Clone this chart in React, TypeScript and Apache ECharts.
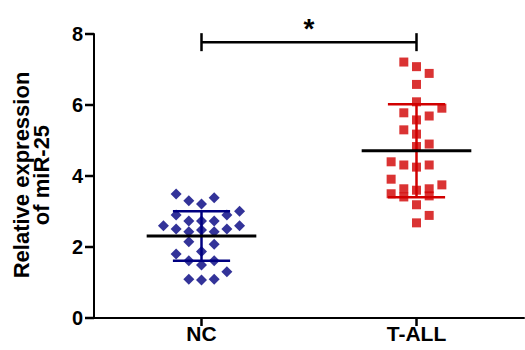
import React, { useEffect, useRef } from "react";
import * as echarts from "echarts";

const categories = ["NC", "T-ALL"];
const yTicks = [0, 2, 4, 6, 8];

// NC group: jitter column index and value
const ncCol = [-2, -1, 1, 0, -2, 2, 3, -3, -1, 0, 1, 3, -2, -1, 0, 1, 2, -1, 1, 0, -2, -1, 0, 1, 2, -1, 0, 1];
const ncVal = [3.49, 3.3, 3.39, 3.21, 2.9, 2.9, 3.01, 2.6, 2.73, 2.73, 2.73, 2.6, 2.51, 2.43, 2.48, 2.43, 2.51, 2.15, 2.08, 1.87, 1.8, 1.61, 1.49, 1.61, 1.3, 1.09, 1.07, 1.09];

// T-ALL group
const tallCol = [-1, 0, 1, 0, 0, 2, -1, 0, 1, -1, 0, 1, 0, -2, -1, 0, 1, -2, 2, -1, 1, 0, -2, -1, 1, 0, 1, 0];
const tallVal = [7.21, 7.08, 6.89, 6.58, 6.09, 5.91, 5.78, 5.58, 5.69, 5.3, 5.18, 4.9, 4.83, 4.4, 4.31, 4.25, 4.31, 3.91, 3.75, 3.64, 3.64, 3.6, 3.5, 3.41, 3.44, 3.19, 2.89, 2.68];

// mean and SD per group
const means = [2.31, 4.71];
const sds = [0.7, 1.31];

// significance bracket
const bracketLevel = 7.77;
const bracketLabel = "*";

const JIT = 0.059;
const MEAN_HALF = 0.255;
const CAP_HALF = 0.133;
const X_MIN = -0.5;
const X_MAX = 1.5;
const colors = ["#000080", "#d10000"];
const FONT = "'Liberation Sans', Arial, sans-serif";

export default function App() {
  const ref = useRef<HTMLDivElement>(null);
  useEffect(() => {
    document.body.style.margin = "0";
    if (!ref.current) return;
    const chart = echarts.init(ref.current, undefined, { renderer: "svg" });
    const option: any = {
      animation: false,
      backgroundColor: "#ffffff",
      grid: { left: 94, right: 1, top: 34, bottom: 32, outerBoundsMode: "none", containLabel: false },
      xAxis: [
        {
          type: "category",
          data: categories,
          boundaryGap: true,
          axisLine: { show: true, onZero: false, lineStyle: { color: "#000", width: 2 } },
          axisTick: { show: false },
          axisLabel: { color: "#000", fontSize: 21, fontWeight: "bold", fontFamily: FONT, margin: 5 },
          splitLine: { show: false },
        },
        { type: "value", min: X_MIN, max: X_MAX, show: false },
      ],
      yAxis: {
        type: "value",
        min: yTicks[0],
        max: yTicks[yTicks.length - 1],
        interval: 2,
        axisLine: { show: true, onZero: false, lineStyle: { color: "#000", width: 2 } },
        axisTick: { show: false },
        axisLabel: { color: "#000", fontSize: 20, fontWeight: "bold", fontFamily: FONT, margin: 11 },
        splitLine: { show: false },
      },
      graphic: [
        {
          type: "text",
          x: 31,
          y: 175,
          rotation: Math.PI / 2,
          style: {
            text: "Relative expression\nof miR-25",
            fill: "#000",
            fontSize: 22,
            fontWeight: "bold",
            fontFamily: FONT,
            align: "center",
            verticalAlign: "middle",
            lineHeight: 20,
          },
        },
      ],
      series: [
        {
          type: "scatter",
          xAxisIndex: 1,
          symbol: "diamond",
          symbolSize: 11,
          itemStyle: { color: colors[0] },
          data: ncVal.map((v, i) => [0 + ncCol[i] * JIT, v]),
          z: 2,
        },
        {
          type: "scatter",
          xAxisIndex: 1,
          symbol: "rect",
          symbolSize: 9,
          itemStyle: { color: colors[1] },
          data: tallVal.map((v, i) => [1 + tallCol[i] * JIT, v]),
          z: 2,
        },
        {
          type: "custom",
          xAxisIndex: 1,
          z: 5,
          clip: false,
          encode: { x: 0, y: 1 },
          data: means.map((m, i) => [i, m, sds[i]]),
          renderItem: (params: any, api: any) => {
            const x = api.value(0);
            const m = api.value(1);
            const s = api.value(2);
            const c = api.coord([x, m]);
            const t = api.coord([x, m + s]);
            const b = api.coord([x, m - s]);
            const mh = api.size([MEAN_HALF, 0])[0];
            const ch = api.size([CAP_HALF, 0])[0];
            const col = colors[params.dataIndex];
            const es = { stroke: col, lineWidth: 2.5 };
            return {
              type: "group",
              children: [
                { type: "line", shape: { x1: c[0], y1: t[1], x2: c[0], y2: b[1] }, style: es },
                { type: "line", shape: { x1: c[0] - ch, y1: t[1], x2: c[0] + ch, y2: t[1] }, style: es },
                { type: "line", shape: { x1: c[0] - ch, y1: b[1], x2: c[0] + ch, y2: b[1] }, style: es },
                { type: "line", shape: { x1: c[0] - mh, y1: c[1], x2: c[0] + mh, y2: c[1] }, style: { stroke: "#000", lineWidth: 3 } },
              ],
            };
          },
        },
        {
          // significance bracket, star and axis ticks
          type: "custom",
          xAxisIndex: 1,
          z: 6,
          clip: false,
          encode: { x: 0, y: 2 },
          data: [[0, 1, bracketLevel]],
          renderItem: (params: any, api: any) => {
            const p1 = api.coord([api.value(0), api.value(2)]);
            const p2 = api.coord([api.value(1), api.value(2)]);
            const st = { stroke: "#000", lineWidth: 2.5 };
            const ticks: any[] = [];
            yTicks.forEach((v) => {
              const p = api.coord([X_MIN, v]);
              ticks.push({ type: "rect", shape: { x: p[0] - 9, y: p[1] - 1.25, width: 9, height: 2.5 }, style: { fill: "#000" } });
            });
            categories.forEach((_, i) => {
              const p = api.coord([i, yTicks[0]]);
              ticks.push({ type: "rect", shape: { x: p[0] - 1.25, y: p[1], width: 2.5, height: 8 }, style: { fill: "#000" } });
            });
            return {
              type: "group",
              children: [
                ...ticks,
                { type: "line", shape: { x1: p1[0], y1: p1[1], x2: p2[0], y2: p2[1] }, style: st },
                { type: "line", shape: { x1: p1[0], y1: p1[1] - 9, x2: p1[0], y2: p1[1] + 9 }, style: st },
                { type: "line", shape: { x1: p2[0], y1: p2[1] - 9, x2: p2[0], y2: p2[1] + 9 }, style: st },
                {
                  type: "text",
                  x: (p1[0] + p2[0]) / 2,
                  y: p1[1] - 14,
                  style: {
                    text: bracketLabel,
                    fill: "#000",
                    fontSize: 28,
                    fontWeight: "bold",
                    fontFamily: FONT,
                    align: "center",
                    verticalAlign: "middle",
                  },
                },
              ],
            };
          },
        },
      ],
    };
    chart.setOption(option);
    return () => chart.dispose();
  }, []);
  return <div ref={ref} style={{ width: 525, height: 350 }} />;
}
